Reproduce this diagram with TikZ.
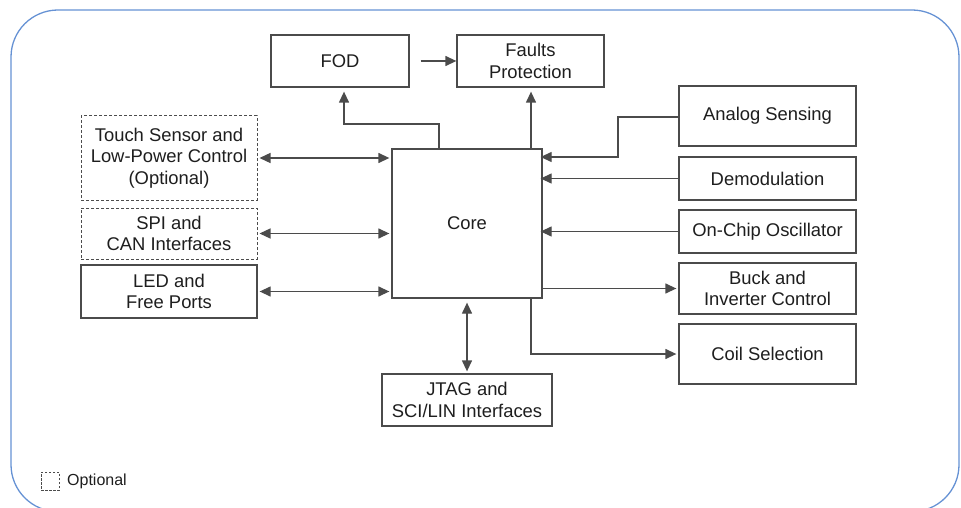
\documentclass[tikz,border=0pt]{standalone}
\usepackage{fontspec}
\setmainfont{Liberation Sans}
\usetikzlibrary{arrows.meta}
\definecolor{framecol}{RGB}{102,146,212}
\definecolor{linecol}{RGB}{75,75,75}
\definecolor{txtcol}{RGB}{30,30,30}
\begin{document}
\begin{tikzpicture}[x=1pt,y=-1pt,
  blk/.style={draw=linecol,line width=1.3pt,fill=white,inner sep=0pt,align=center,
    text=txtcol,font=\fontsize{18.4}{21.5}\selectfont},
  optblk/.style={blk,dash pattern=on 3pt off 2pt,draw=black!70,line width=1pt},
  conn/.style={draw=linecol,line width=1.3pt,-{Triangle[length=11pt,width=10pt]}},
  biconn/.style={conn,{Triangle[length=11pt,width=10pt]}-{Triangle[length=11pt,width=10pt]}}
]
\useasboundingbox (0,0) rectangle (961,508);
% outer rounded frame
\draw[framecol,line width=1.3pt,rounded corners=47pt] (11,10) rectangle (959,511.6);

% top row
\node[blk,minimum width=138pt,minimum height=52pt] (fod) at (340,61) {FOD};
\node[blk,minimum width=147pt,minimum height=52pt] (faults) at (530.5,61) {Faults\\Protection};

% left column
\node[optblk,minimum width=176pt,minimum height=84pt] (touch) at (169,158) {Touch Sensor and\\Low-Power Control\\(Optional)};
\node[optblk,minimum width=176pt,minimum height=51pt] (spi) at (169,233.5) {SPI and\\CAN Interfaces};
\node[blk,minimum width=176pt,minimum height=53pt] (led) at (169,291.5) {LED and\\Free Ports};

% core and bottom block
\node[blk,minimum width=150pt,minimum height=149pt] (core) at (467,223.5) {Core};
\node[blk,minimum width=170pt,minimum height=52pt] (jtag) at (467,400) {JTAG and\\SCI/LIN Interfaces};

% right column
\node[blk,minimum width=177pt,minimum height=60pt] (analog) at (767.5,116) {Analog Sensing};
\node[blk,minimum width=177pt,minimum height=43pt] (demod) at (767.5,178.5) {Demodulation};
\node[blk,minimum width=177pt,minimum height=43pt] (osc) at (767.5,231.5) {On-Chip Oscillator};
\node[blk,minimum width=177pt,minimum height=51pt] (buck) at (767.5,288.5) {Buck and\\Inverter Control};
\node[blk,minimum width=177pt,minimum height=60pt] (coil) at (767.5,354) {Coil Selection};

% legend
\node[draw=black!70,dash pattern=on 2.5pt off 1.5pt,line width=1pt,minimum size=18pt,inner sep=0pt] (legbox) at (50,481) {};
\node[anchor=west,inner sep=0pt,text=txtcol,font=\fontsize{16}{18}\selectfont] (legtext) at (67,481) {Optional};

% connectors along the top
\draw[conn,shorten <=11pt] (fod.east) -- (faults.west);
\coordinate (fodtap) at (439,0);
\coordinate (fodbend) at (344,124);
\draw[conn,shorten >=4pt] (fodtap |- core.north) -- (fodtap |- fodbend) -- (fodbend) -- (fodbend |- fod.south);
\coordinate (fltap) at (531,0);
\draw[conn,shorten >=4pt] (fltap |- core.north) -- (fltap |- faults.south);

% left side, bidirectional
\draw[biconn,shorten <=2pt,shorten >=2pt] (touch.east) -- (touch.east -| core.west);
\draw[biconn,shorten <=2pt,shorten >=2pt] (spi.east) -- (spi.east -| core.west);
\draw[biconn,shorten <=2pt,shorten >=2pt] (led.east) -- (led.east -| core.west);

% right side inputs
\coordinate (anbend) at (618,157);
\draw[conn,shorten >=-2pt] ([yshift=-1pt]analog.west) -- ([yshift=-1pt]analog.west -| anbend) -- (anbend) -- (anbend -| core.east);
\draw[conn,shorten >=-2pt] (demod.west) -- (demod.west -| core.east);
\draw[conn,shorten >=-2pt] (osc.west) -- (osc.west -| core.east);

% right side outputs
\draw[conn,shorten >=2pt] (buck.west -| core.east) -- (buck.west);
\draw[conn,shorten >=2pt] (fltap |- core.south) -- (fltap |- coil.west) -- (coil.west);

% bottom, bidirectional
\draw[biconn,shorten <=4pt,shorten >=2pt] (core.south) -- (jtag.north);
\end{tikzpicture}
\end{document}
